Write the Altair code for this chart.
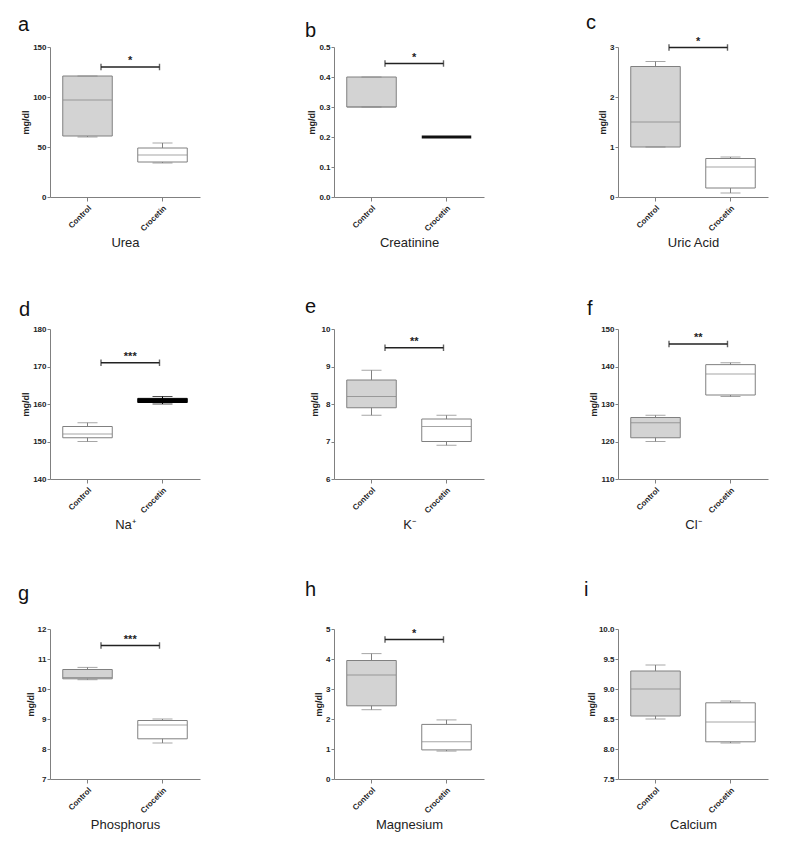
import altair as alt
import pandas as pd

groups = ["Control", "Crocetin"]
letters = ["a", "b", "c", "d", "e", "f", "g", "h", "i"]
names = ["Urea", "Creatinine", "Uric Acid", "Na\u207a", "K\u207b", "Cl\u207b",
         "Phosphorus", "Magnesium", "Calcium"]

y_ticks = [
    [0, 50, 100, 150],
    [0.0, 0.1, 0.2, 0.3, 0.4, 0.5],
    [0, 1, 2, 3],
    [140, 150, 160, 170, 180],
    [6, 7, 8, 9, 10],
    [110, 120, 130, 140, 150],
    [7, 8, 9, 10, 11, 12],
    [0, 1, 2, 3, 4, 5],
    [7.5, 8.0, 8.5, 9.0, 9.5, 10.0],
]
tick_format = ["d", ".1f", "d", "d", "d", "d", "d", "d", ".1f"]

# five-number summaries: [min, Q1, median, Q3, max]
control_stats = [
    [60, 61, 97, 121, 121],
    [0.3, 0.3, 0.3, 0.4, 0.4],
    [1.0, 1.0, 1.5, 2.61, 2.71],
    [150, 151, 152, 154, 155],
    [7.7, 7.9, 8.2, 8.64, 8.9],
    [120, 121, 125, 126.4, 127],
    [10.31, 10.34, 10.38, 10.65, 10.72],
    [2.31, 2.44, 3.47, 3.95, 4.18],
    [8.5, 8.55, 9.0, 9.3, 9.4],
]
crocetin_stats = [
    [34, 35, 42, 49, 54],
    [0.2, 0.2, 0.2, 0.2, 0.2],
    [0.08, 0.18, 0.6, 0.77, 0.8],
    [160, 160.4, 161, 161.5, 162],
    [6.9, 7.0, 7.4, 7.6, 7.7],
    [132, 132.4, 138, 140.5, 141],
    [8.2, 8.34, 8.8, 8.95, 9.0],
    [0.93, 0.97, 1.24, 1.82, 1.97],
    [8.1, 8.12, 8.45, 8.77, 8.8],
]
sig_marks = ["*", "*", "*", "***", "**", "**", "***", "*", ""]
sig_level = [130, 0.445, 2.99, 171, 9.5, 146, 11.45, 4.65, None]

# styles (kept apart from the data)
GRAY = "#d3d3d3"
LINE = "#808080"
control_fill = [GRAY, GRAY, GRAY, "#ffffff", GRAY, GRAY, GRAY, GRAY, GRAY]
crocetin_fill = ["#ffffff", "#ffffff", "#ffffff", "#000000", "#ffffff",
                 "#ffffff", "#ffffff", "#ffffff", "#ffffff"]
crocetin_line = [LINE, "#111111", LINE, "#000000", LINE, LINE, LINE, LINE, LINE]
crocetin_width = [1, 3, 1, 1, 1, 1, 1, 1, 1]
panel_width = [150, 150, 150, 150, 150, 150, 150, 150, 150]
letter_dx = [-32, -29, -32, -31, -29, -31, -32, -29, -34]
letter_dy = [8, 14, 13, 11, 8, 10, -5, -9, -9]

FONT = "Liberation Sans"


def panel(k):
    c, r = control_stats[k], crocetin_stats[k]
    df = pd.DataFrame({
        "group": groups,
        "lo": [c[0], r[0]], "q1": [c[1], r[1]], "med": [c[2], r[2]],
        "q3": [c[3], r[3]], "hi": [c[4], r[4]],
        "fill": [control_fill[k], crocetin_fill[k]],
        "line": [LINE, crocetin_line[k]],
        "lw": [1, crocetin_width[k]],
    })
    xs = alt.Scale(domain=groups, paddingInner=0, paddingOuter=0)
    xaxis = alt.Axis(labelAngle=-45, labelFontWeight="bold", labelFontSize=8,
                     labelColor="#222222", labelFont=FONT, labelPadding=3,
                     tickSize=4, tickColor=LINE, domainColor=LINE,
                     titleFont=FONT, titleFontSize=13, titleFontWeight="normal",
                     titleColor="#222222", titlePadding=4)
    ys = alt.Scale(domain=[y_ticks[k][0], y_ticks[k][-1]], nice=False, zero=False)
    yaxis = alt.Axis(values=y_ticks[k], format=tick_format[k], labelFontWeight="bold",
                     labelFontSize=8, labelColor="#222222", labelFont=FONT,
                     labelPadding=1, tickSize=3, tickColor=LINE, domainColor=LINE,
                     grid=False, titleFont=FONT, titleFontSize=9,
                     titleFontWeight="bold", titleColor="#222222", titlePadding=2)

    def X(field, bp=None):
        if bp is None:
            return alt.X(f"{field}:N", scale=xs, axis=xaxis, title=names[k])
        return alt.X(f"{field}:N", scale=xs, axis=xaxis, title=names[k], bandPosition=bp)

    def Y(field):
        return alt.Y(f"{field}:Q", scale=ys, axis=yaxis, title="mg/dl")

    base = alt.Chart(df)
    whisk = base.mark_rule(strokeWidth=1).encode(
        x=X("group"), y=Y("lo"), y2="hi:Q",
        stroke=alt.Stroke("line:N", scale=None))
    box = base.mark_bar(width=alt.RelativeBandSize(0.66)).encode(
        x=X("group"), y=Y("q1"), y2="q3:Q",
        fill=alt.Fill("fill:N", scale=None),
        stroke=alt.Stroke("line:N", scale=None),
        strokeWidth=alt.StrokeWidth("lw:Q", scale=None))
    med = base.mark_tick(size=49, thickness=1).encode(
        x=X("group"), y=Y("med"), color=alt.Color("line:N", scale=None))
    cap_hi = base.mark_tick(size=20, thickness=1).encode(
        x=X("group"), y=Y("hi"), color=alt.Color("line:N", scale=None))
    cap_lo = base.mark_tick(size=20, thickness=1).encode(
        x=X("group"), y=Y("lo"), color=alt.Color("line:N", scale=None))
    layers = [whisk, box, med, cap_hi, cap_lo]

    if sig_level[k] is not None:
        sdf = pd.DataFrame({"group": ["Control"], "group2": ["Crocetin"],
                            "level": [sig_level[k]], "mark": [sig_marks[k]]})
        sb = alt.Chart(sdf)
        bracket = sb.mark_rule(color="#222222", strokeWidth=1.4).encode(
            x=X("group", 0.68), x2=alt.X2("group2:N", bandPosition=0.46), y=Y("level"))
        end1 = sb.mark_point(shape="M0,-1L0,1", size=42, color="#222222",
                             strokeWidth=1.4, filled=False).encode(
            x=X("group", 0.68), y=Y("level"))
        end2 = sb.mark_point(shape="M0,-1L0,1", size=42, color="#222222",
                             strokeWidth=1.4, filled=False).encode(
            x=X("group2", 0.46), y=Y("level"))
        star = sb.mark_text(fontSize=11, fontWeight="bold", font=FONT,
                            color="#222222", dy=-6).encode(
            x=X("group2", 0.07), y=Y("level"), text="mark:N")
        layers += [bracket, end1, end2, star]

    return alt.layer(*layers).properties(
        width=panel_width[k], height=150,
        title=alt.TitleParams(letters[k], anchor="start", frame="group",
                              fontSize=20, fontWeight="normal", font=FONT,
                              color="#111111", dx=letter_dx[k], dy=letter_dy[k],
                              offset=0, baseline="alphabetic"),
    )


rows = []
for rr in range(3):
    rows.append(alt.hconcat(*[panel(rr * 3 + j) for j in range(3)],
                            spacing=134, bounds="flush"))

chart = alt.vconcat(alt.vconcat(rows[0], rows[1], spacing=47), rows[2], spacing=48)
chart = chart.properties(
    padding={"left": 10, "top": 4, "right": 5, "bottom": 5},
    background="white",
).configure_view(stroke=None)

chart.save("out.html", embed_options={"renderer": "svg", "actions": False})
